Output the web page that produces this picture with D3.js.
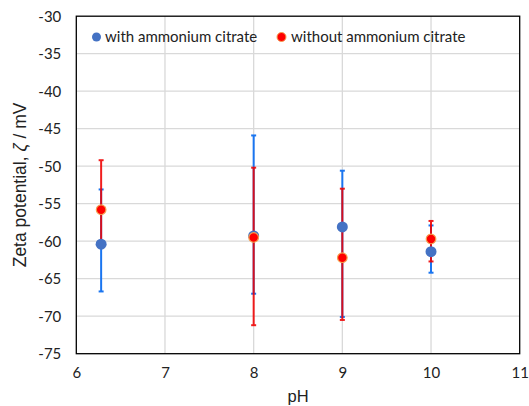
<!DOCTYPE html>
<html><head><meta charset="utf-8">
<script src="https://cdn.jsdelivr.net/npm/d3@7/dist/d3.min.js"></script>
<style>body{margin:0;background:#fff}svg{display:block}</style>
</head><body>
<script>
const seriesNames = ["with ammonium citrate", "without ammonium citrate"];
const pH = [6.28, 8, 9, 10];
const withVal  = [-60.4, -59.3, -58.1, -61.4];
const withHigh = [-53.1, -45.9, -50.6, -57.9];
const withLow  = [-66.7, -67.0, -70.1, -64.2];
const withoutVal  = [-55.8, -59.5, -62.2, -59.7];
const withoutHigh = [-49.2, -50.2, -53.0, -57.3];
const withoutLow  = [-60.6, -71.2, -70.5, -62.7];
const xTicks = [6, 7, 8, 9, 10, 11];
const yTicks = [-30, -35, -40, -45, -50, -55, -60, -65, -70, -75];

const W = 529, H = 406;
const m = {l: 76.3, r: W - 519.7, t: 16.2, b: H - 353.7};
const svg = d3.select("body").append("svg").attr("width", W).attr("height", H);
const x = d3.scaleLinear().domain([6, 11]).range([m.l, W - m.r]);
const y = d3.scaleLinear().domain([-75, -30]).range([H - m.b, m.t]);
const fmt = d => String(d);

// grid
svg.append("g").selectAll("line").data(xTicks.slice(1, -1)).join("line")
  .attr("x1", d => x(d)).attr("x2", d => x(d)).attr("y1", y(-30)).attr("y2", y(-75))
  .attr("stroke", "#d9d9d9").attr("stroke-width", 1.3);
svg.append("g").selectAll("line").data(yTicks.slice(1, -1)).join("line")
  .attr("x1", x(6)).attr("x2", x(11)).attr("y1", d => y(d)).attr("y2", d => y(d))
  .attr("stroke", "#d9d9d9").attr("stroke-width", 1.3);

// frame
svg.append("rect").attr("x", x(6)).attr("y", y(-30)).attr("width", x(11) - x(6)).attr("height", y(-75) - y(-30))
  .attr("fill", "none").attr("stroke", "#000").attr("stroke-width", 1.3);

// axes
const font = "Lato, 'Open Sans', sans-serif";
const yAxis = svg.append("g").attr("transform", `translate(${x(6)},0)`)
  .call(d3.axisLeft(y).tickValues(yTicks).tickSize(0).tickPadding(15).tickFormat(fmt));
yAxis.select(".domain").remove();
yAxis.selectAll("text").attr("font-family", font).attr("font-size", 15).attr("fill", "#222");
const xAxis = svg.append("g").attr("transform", `translate(0,${y(-75)})`)
  .call(d3.axisBottom(x).tickValues(xTicks).tickSize(0).tickPadding(14).tickFormat(fmt));
xAxis.select(".domain").remove();
xAxis.selectAll("text").attr("font-family", font).attr("font-size", 15).attr("fill", "#222");

// titles
svg.append("text").attr("x", 298).attr("y", 402).attr("text-anchor", "middle")
  .attr("font-family", "'Liberation Sans', Arial, sans-serif").attr("font-size", 16.5).attr("fill", "#222").text("pH");
const yt = svg.append("text").attr("transform", `translate(26,${(y(-30) + y(-75)) / 2}) rotate(-90)`)
  .attr("text-anchor", "middle").attr("font-family", "'Liberation Sans', Arial, sans-serif").attr("font-size", 17.5).attr("fill", "#222");
yt.append("tspan").text("Zeta potential, ");
yt.append("tspan").attr("font-style", "italic").text("ζ");
yt.append("tspan").text(" / mV");

// error bars
function errBars(vals, hi, lo, color, op) {
  const g = svg.append("g").attr("opacity", op);
  pH.forEach((p, i) => {
    g.append("line").attr("x1", x(p)).attr("x2", x(p)).attr("y1", y(hi[i])).attr("y2", y(lo[i]))
      .attr("stroke", color).attr("stroke-width", 2);
    [hi[i], lo[i]].forEach(v => g.append("line").attr("x1", x(p) - 2.5).attr("x2", x(p) + 2.5)
      .attr("y1", y(v)).attr("y2", y(v)).attr("stroke", color).attr("stroke-width", 2));
  });
}
errBars(withVal, withHigh, withLow, "#1a75f0", 1);
errBars(withoutVal, withoutHigh, withoutLow, "#f00000", 0.88);

// markers
svg.append("g").selectAll("circle").data(pH).join("circle")
  .attr("cx", d => x(d)).attr("cy", (d, i) => y(withVal[i])).attr("r", 5.5).attr("fill", "#4472c4");
svg.append("g").selectAll("circle").data(pH).join("circle")
  .attr("cx", d => x(d)).attr("cy", (d, i) => y(withoutVal[i])).attr("r", 4.8).attr("fill", "#ff0000")
  .attr("stroke", "#f5a050").attr("stroke-width", 1.2);

// legend
const lg = svg.append("g").attr("font-family", font).attr("font-size", 15).attr("fill", "#222");
lg.append("circle").attr("cx", 96.5).attr("cy", 37).attr("r", 4.5).attr("fill", "#4472c4");
lg.append("text").attr("x", 105).attr("y", 42).text(seriesNames[0]);
lg.append("circle").attr("cx", 281.5).attr("cy", 37).attr("r", 4.5).attr("fill", "#ff0000").attr("stroke", "#f5a050").attr("stroke-width", 1);
lg.append("text").attr("x", 291).attr("y", 42).text(seriesNames[1]);
</script>
</body></html>
